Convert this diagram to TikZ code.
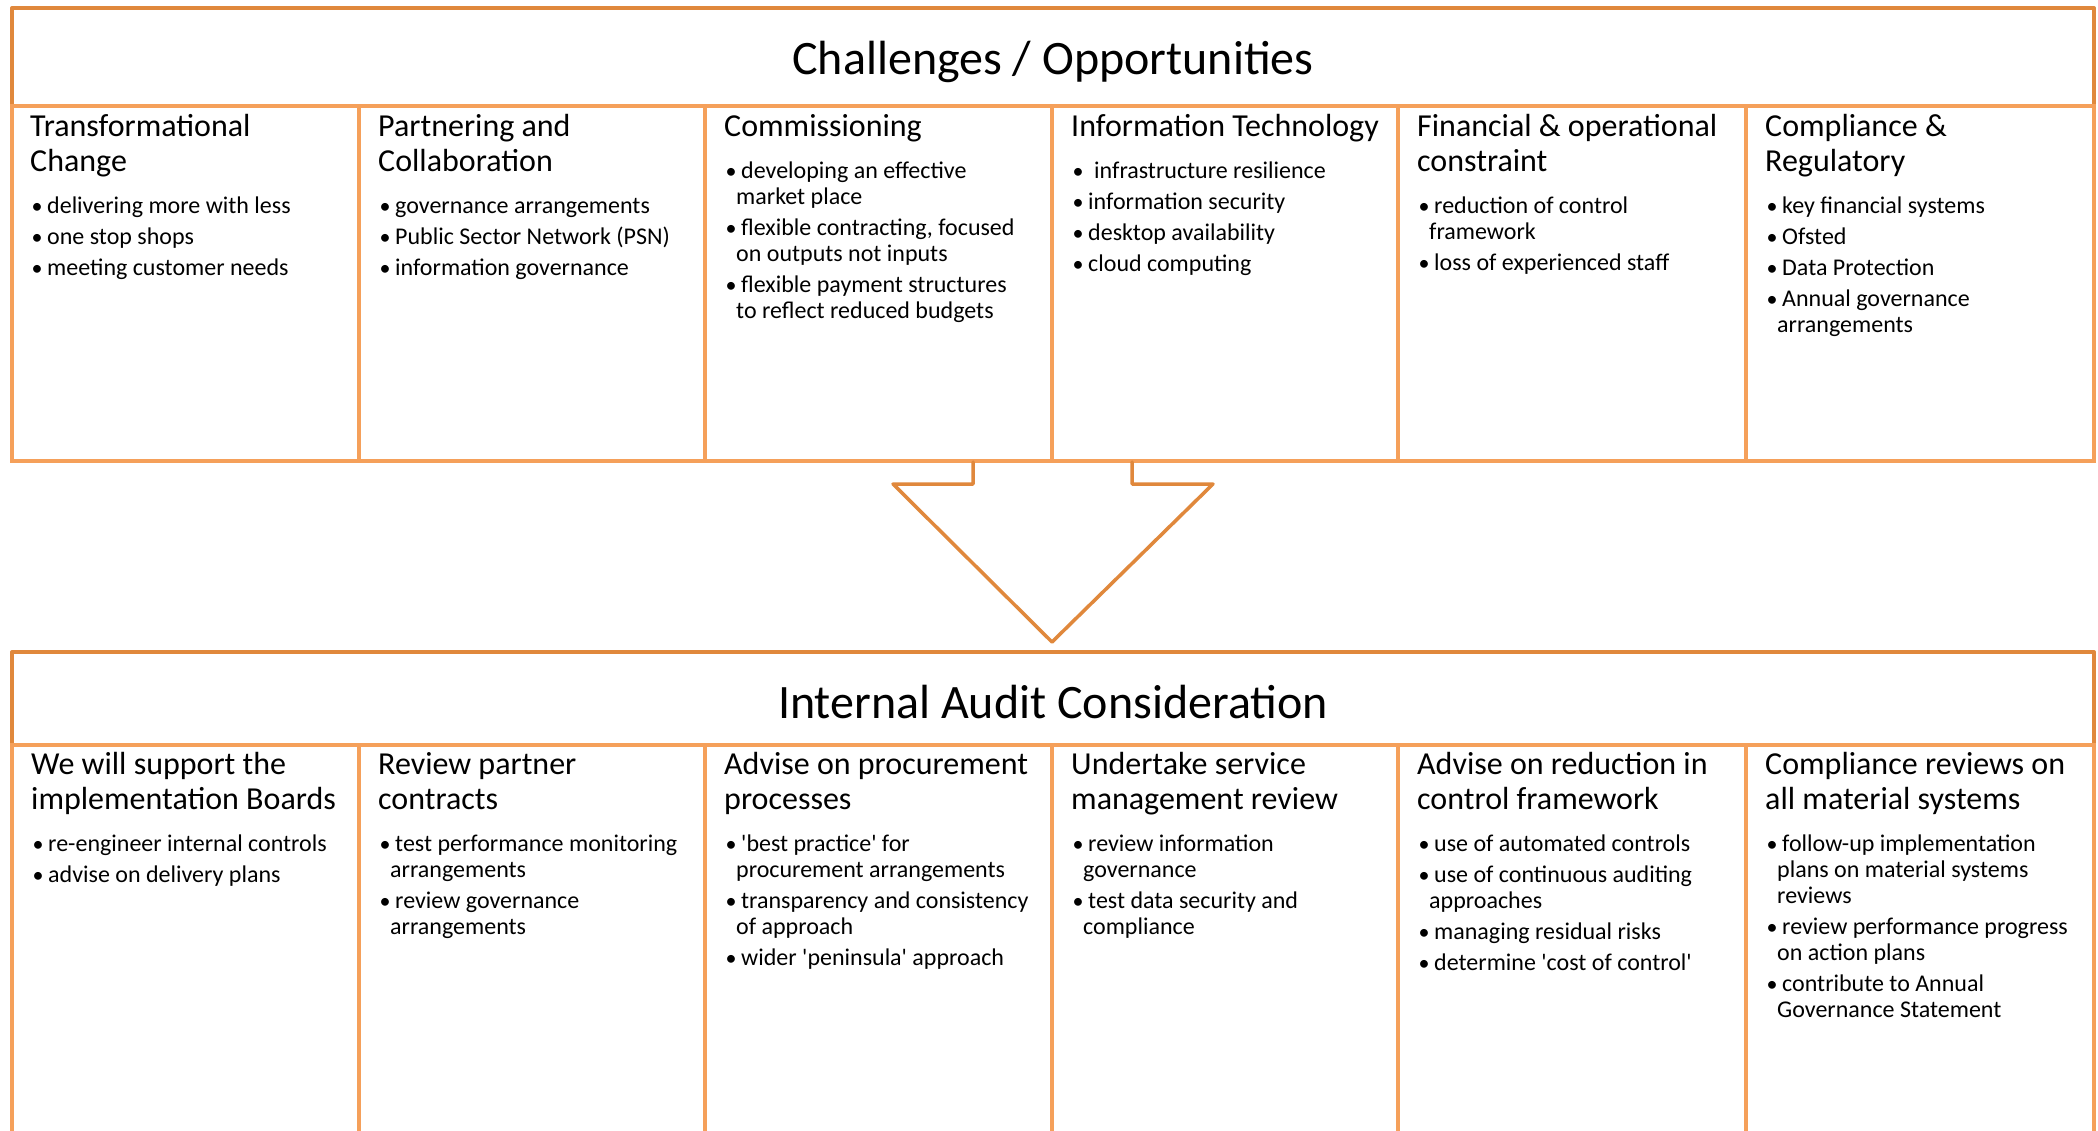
\documentclass[tikz,border=0pt]{standalone}
\usepackage{fontspec}
% plain family: no TeX ligatures, so ' stays a straight quote
\newfontfamily\calib{Carlito}
\definecolor{frameorange}{HTML}{E0883C}
\definecolor{colorange}{HTML}{F5A05A}

% line break that stays inside the current (hanging) paragraph
\newcommand{\nl}{\hspace*{0pt plus 1fil}\break}
% column heading and bullet items
\newcommand{\colhead}[1]{{\fontsize{32}{35}\selectfont #1\par}\vspace{16pt}}
\newcommand{\bdot}{\raisebox{0pt}{\fontsize{22}{22}\selectfont•}}
\newcommand{\bitem}[1]{\hangindent=12pt\hangafter=1\noindent\makebox[17pt][l]{\hspace{1.5pt}\bdot}#1\par\vspace{5pt}}
\newcommand{\colbody}[2]{\parbox[t]{325pt}{\calib\raggedright\parindent=0pt\parskip=0pt
  \fontsize{24}{26}\selectfont\colhead{#1}#2}}

\tikzset{
  frame/.style={draw=frameorange, line width=4pt, line cap=round, line join=round},
  colbox/.style={draw=colorange, line width=4pt, inner sep=0pt, outer sep=0pt, anchor=north west},
  coltext/.style={inner sep=0pt, anchor=base west},
  bigtitle/.style={inner sep=0pt, anchor=base, font=\calib\fontsize{48}{52}\selectfont},
}

\begin{document}
\begin{tikzpicture}[x=1pt, y=-1pt]
\clip (0,0) rectangle (2098,1130);
\fill[white] (0,0) rectangle (2098,1130);

% ---------- upper panel ----------
\draw[frame] (12,430) -- (12,8) -- (2094,8) -- (2094,430);
\node[bigtitle] (toptitle) at (1053,74) {Challenges / Opportunities};

\node[colbox, minimum width=347pt, minimum height=355pt] (t1) at (12,106) {};
\node[colbox, minimum width=346pt, minimum height=355pt] (t2) at (359,106) {};
\node[colbox, minimum width=347pt, minimum height=355pt] (t3) at (705,106) {};
\node[colbox, minimum width=346pt, minimum height=355pt] (t4) at (1052,106) {};
\node[colbox, minimum width=348pt, minimum height=355pt] (t5) at (1398,106) {};
\node[colbox, minimum width=348pt, minimum height=355pt] (t6) at (1746,106) {};

\node[coltext] (t1txt) at ([xshift=18pt,yshift=-30pt]t1.north west) {\colbody{Transformational\\Change}{%
  \bitem{delivering more with less}
  \bitem{one stop shops}
  \bitem{meeting customer needs}}};
\node[coltext] (t2txt) at ([xshift=19pt,yshift=-30pt]t2.north west) {\colbody{Partnering and\\Collaboration}{%
  \bitem{governance arrangements}
  \bitem{Public Sector Network (PSN)}
  \bitem{information governance}}};
\node[coltext] (t3txt) at ([xshift=19pt,yshift=-30pt]t3.north west) {\colbody{Commissioning}{%
  \bitem{developing an effective\nl market place}
  \bitem{flexible contracting, focused\nl on outputs not inputs}
  \bitem{flexible payment structures\nl to reflect reduced budgets}}};
\node[coltext] (t4txt) at ([xshift=19pt,yshift=-30pt]t4.north west) {\colbody{Information Technology}{%
  \bitem{\hspace{6pt}infrastructure resilience}
  \bitem{information security}
  \bitem{desktop availability}
  \bitem{cloud computing}}};
\node[coltext] (t5txt) at ([xshift=19pt,yshift=-30pt]t5.north west) {\colbody{Financial \& operational\\constraint}{%
  \bitem{reduction of control\nl framework}
  \bitem{loss of experienced staff}}};
\node[coltext] (t6txt) at ([xshift=19pt,yshift=-30pt]t6.north west) {\colbody{Compliance \&\\Regulatory}{%
  \bitem{key financial systems}
  \bitem{Ofsted}
  \bitem{Data Protection}
  \bitem{Annual governance\nl arrangements}}};

% ---------- block arrow ----------
\coordinate (stemL) at (973,462);
\coordinate (stemR) at (1132,462);
\coordinate (tip) at (1052,642);
\draw[frame, line width=3.5pt] (stemL) -- (973,484) -- (893,484) -- (tip) -- (1213,484) -- (1132,484) -- (stemR);

% ---------- lower panel ----------
\draw[frame] (12,1008) -- (12,652) -- (2094,652) -- (2094,1008);
\node[bigtitle] (bottitle) at (1053,718) {Internal Audit Consideration};

\node[colbox, minimum width=347pt, minimum height=400pt] (b1) at (12,745) {};
\node[colbox, minimum width=346pt, minimum height=400pt] (b2) at (359,745) {};
\node[colbox, minimum width=347pt, minimum height=400pt] (b3) at (705,745) {};
\node[colbox, minimum width=346pt, minimum height=400pt] (b4) at (1052,745) {};
\node[colbox, minimum width=348pt, minimum height=400pt] (b5) at (1398,745) {};
\node[colbox, minimum width=348pt, minimum height=400pt] (b6) at (1746,745) {};

\node[coltext] (b1txt) at ([xshift=19pt,yshift=-29pt]b1.north west) {\colbody{We will support the\\implementation Boards}{%
  \bitem{re-engineer internal controls}
  \bitem{advise on delivery plans}}};
\node[coltext] (b2txt) at ([xshift=19pt,yshift=-29pt]b2.north west) {\colbody{Review partner\\contracts}{%
  \bitem{test performance monitoring\nl arrangements}
  \bitem{review governance\nl arrangements}}};
\node[coltext] (b3txt) at ([xshift=19pt,yshift=-29pt]b3.north west) {\colbody{Advise on procurement\\processes}{%
  \bitem{'best practice' for\nl procurement arrangements}
  \bitem{transparency and consistency\nl of approach}
  \bitem{wider 'peninsula' approach}}};
\node[coltext] (b4txt) at ([xshift=19pt,yshift=-29pt]b4.north west) {\colbody{Undertake service\\management review}{%
  \bitem{review information\nl governance}
  \bitem{test data security and\nl compliance}}};
\node[coltext] (b5txt) at ([xshift=19pt,yshift=-29pt]b5.north west) {\colbody{Advise on reduction in\\control framework}{%
  \bitem{use of automated controls}
  \bitem{use of continuous auditing\nl approaches}
  \bitem{managing residual risks}
  \bitem{determine 'cost of control'}}};
\node[coltext] (b6txt) at ([xshift=19pt,yshift=-29pt]b6.north west) {\colbody{Compliance reviews on\\all material systems}{%
  \bitem{follow-up implementation\nl plans on material systems\nl reviews}
  \bitem{review performance progress\nl on action plans}
  \bitem{contribute to Annual\nl Governance Statement}}};
\end{tikzpicture}
\end{document}
